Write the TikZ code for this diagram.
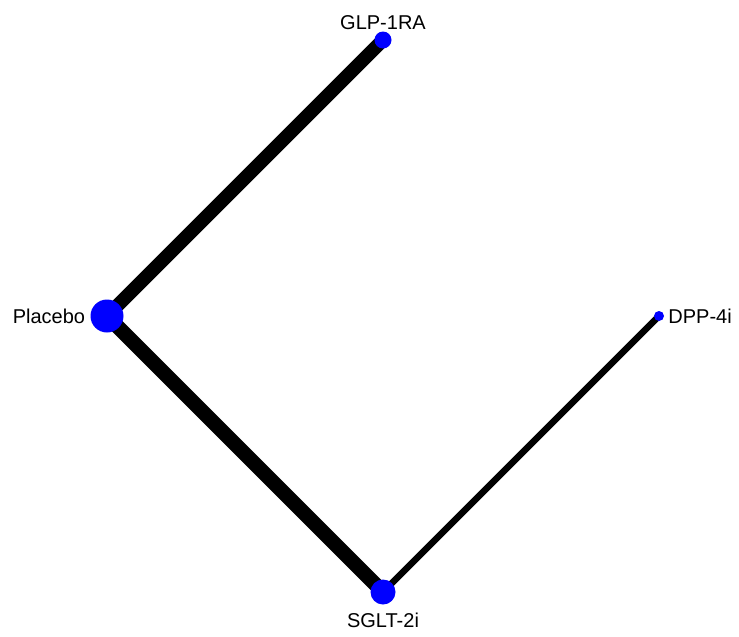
\documentclass[tikz,border=0pt]{standalone}
\usepackage{fontspec}
\setmainfont{Liberation Sans}
\usetikzlibrary{positioning}

\begin{document}
\begin{tikzpicture} [x=1pt,y=-1pt,
  trt/.style={circle, fill=blue, inner sep=0pt},
  lbl/.style={font=\fontsize{20}{24}\selectfont, inner sep=1pt}]
\useasboundingbox (0,0) rectangle (739,637);

\coordinate (glp) at (383,40);
\coordinate (plac) at (107,316);
\coordinate (dpp) at (659,316);
\coordinate (sglt) at (383,592);

\draw[line width=13.5] (plac) -- (glp);
\draw[line width=14.5] (plac) -- (sglt);
\draw[line width=6.5] (sglt) -- (dpp);

\node[trt, minimum size=17] (glpdot) at (glp) {};
\node[trt, minimum size=33] (placdot) at (plac) {};
\node[trt, minimum size=10] (dppdot) at (dpp) {};
\node[trt, minimum size=25] (sgltdot) at (sglt) {};

\node[lbl, above=0pt of glpdot] (glplbl) {GLP-1RA};
\node[lbl, left=4pt of placdot] (placlbl) {Placebo};
\node[lbl, right=3pt of dppdot] (dpplbl) {DPP-4i};
\node[lbl, below=7pt of sgltdot] (sgltlbl) {SGLT-2i};

\end{tikzpicture}
\end{document}
